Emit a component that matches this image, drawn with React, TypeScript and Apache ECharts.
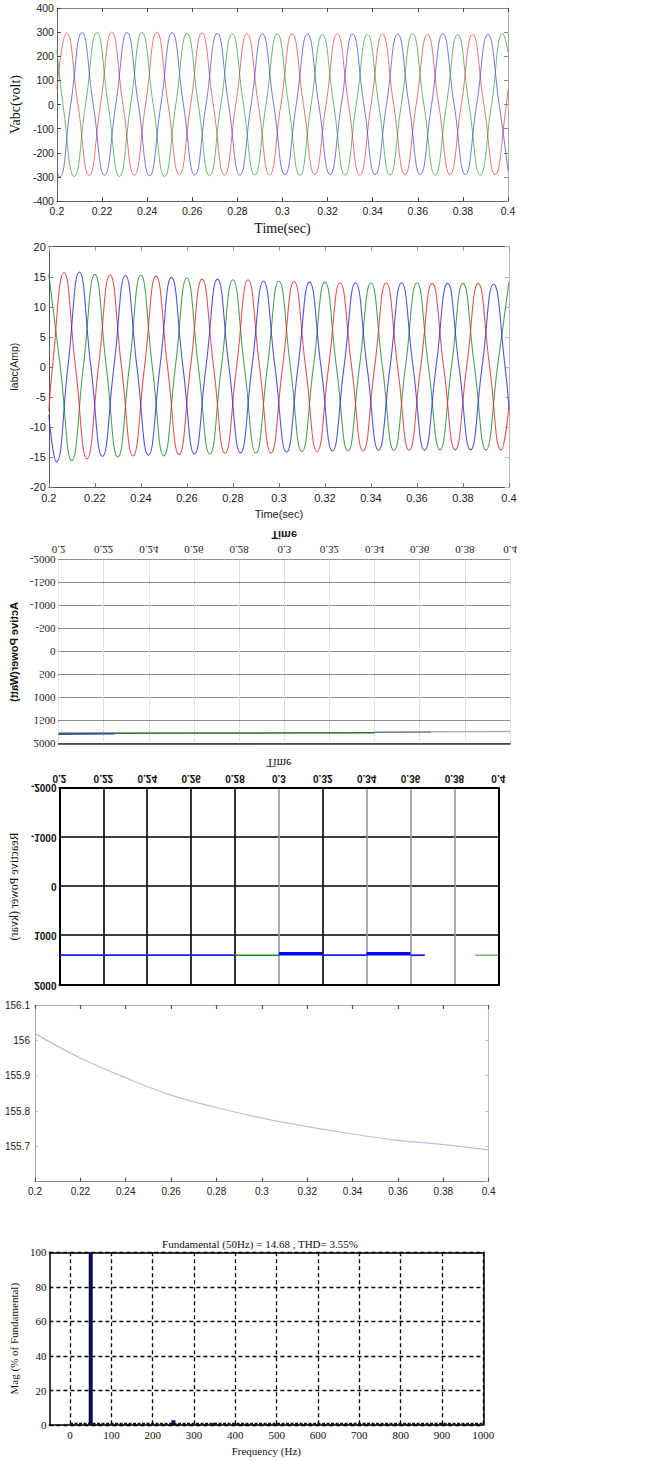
import React, { useEffect, useRef } from "react";
import * as echarts from "echarts";

// ---------- Panel 1: Vabc (volt) ----------
const vRed = [
  [0.2, 65], [0.2043, 297], [0.2093, 0], [0.2143, -293], [0.2193, 0], [0.2243, 300], [0.2293, 0], [0.2343, -293],
  [0.2393, 0], [0.2443, 300], [0.2493, 0], [0.2543, -290], [0.2593, 0], [0.2643, 296], [0.2693, 0], [0.2743, -292],
  [0.2793, 0], [0.2843, 293], [0.2893, 0], [0.2943, -292], [0.2993, 0], [0.3043, 293], [0.3093, 0], [0.3143, -290],
  [0.3193, 0], [0.3243, 293], [0.3293, 0], [0.3343, -292], [0.3393, 0], [0.3443, 292], [0.3493, 0], [0.3543, -290],
  [0.3593, 0], [0.3643, 290], [0.3693, 0], [0.3743, -290], [0.3793, 0], [0.3843, 290], [0.3893, 0], [0.3943, -290],
  [0.3993, 0], [0.4, 63],
];
const vBlue = [
  [0.2, -282], [0.2011, -300], [0.2061, 0], [0.2111, 298], [0.2161, 0], [0.2211, -293], [0.2261, 0], [0.2311, 298],
  [0.2361, 0], [0.2411, -295], [0.2461, 0], [0.2511, 298], [0.2561, 0], [0.2611, -292], [0.2661, 0], [0.2711, 295],
  [0.2761, 0], [0.2811, -292], [0.2861, 0], [0.2911, 293], [0.2961, 0], [0.3011, -290], [0.3061, 0], [0.3111, 292],
  [0.3161, 0], [0.3211, -290], [0.3261, 0], [0.3311, 292], [0.3361, 0], [0.3411, -290], [0.3461, 0], [0.3511, 292],
  [0.3561, 0], [0.3611, -290], [0.3661, 0], [0.3711, 293], [0.3761, 0], [0.3811, -290], [0.3861, 0], [0.3911, 290],
  [0.3961, 0], [0.4, -273],
];
const vGreen = [
  [0.2, 225], [0.2027, 0], [0.2077, -298], [0.2127, 0], [0.2177, 298], [0.2227, 0], [0.2277, -298], [0.2327, 0],
  [0.2377, 298], [0.2427, 0], [0.2477, -298], [0.2527, 0], [0.2577, 295], [0.2627, 0], [0.2677, -295], [0.2727, 0],
  [0.2777, 293], [0.2827, 0], [0.2877, -292], [0.2927, 0], [0.2977, 293], [0.3027, 0], [0.3077, -293], [0.3127, 0],
  [0.3177, 290], [0.3227, 0], [0.3277, -292], [0.3327, 0], [0.3377, 290], [0.3427, 0], [0.3477, -292], [0.3527, 0],
  [0.3577, 293], [0.3627, 0], [0.3677, -292], [0.3727, 0], [0.3777, 290], [0.3827, 0], [0.3877, -292], [0.3927, 0],
  [0.3977, 295], [0.4, 219],
];

// ---------- Panel 2: Iabc (Amp) ----------
const iGreen = [
  [0.2, 15.4], [0.205, 0], [0.21, -15.6], [0.215, 0], [0.22, 15.4], [0.225, 0], [0.23, -15.0], [0.235, 0],
  [0.24, 15.3], [0.245, 0], [0.25, -14.8], [0.255, 0], [0.26, 14.8], [0.265, 0], [0.27, -14.5], [0.275, 0],
  [0.28, 14.5], [0.285, 0], [0.29, -14.3], [0.295, 0], [0.3, 14.3], [0.305, 0], [0.31, -14.1], [0.315, 0],
  [0.32, 14.1], [0.325, 0], [0.33, -14.0], [0.335, 0], [0.34, 14.0], [0.345, 0], [0.35, -13.9], [0.355, 0],
  [0.36, 14.0], [0.365, 0], [0.37, -13.8], [0.375, 0], [0.38, 13.9], [0.385, 0], [0.39, -13.8], [0.395, 0],
  [0.4, 14.2],
];
const iRed = [
  [0.2, -7.4], [0.2016, 0], [0.2066, 15.7], [0.2116, 0], [0.2166, -15.3], [0.2216, 0], [0.2266, 15.3], [0.2316, 0],
  [0.2366, -14.8], [0.2416, 0], [0.2466, 15.1], [0.2516, 0], [0.2566, -14.6], [0.2616, 0], [0.2666, 14.6], [0.2716, 0],
  [0.2766, -14.4], [0.2816, 0], [0.2866, 14.5], [0.2916, 0], [0.2966, -14.3], [0.3016, 0], [0.3066, 14.2], [0.3116, 0],
  [0.3166, -14.1], [0.3216, 0], [0.3266, 14.0], [0.3316, 0], [0.3366, -14.0], [0.3416, 0], [0.3466, 14.0], [0.3516, 0],
  [0.3566, -13.9], [0.3616, 0], [0.3666, 13.9], [0.3716, 0], [0.3766, -13.8], [0.3816, 0], [0.3866, 13.9], [0.3916, 0],
  [0.3966, -13.8], [0.4, -6.7],
];
const iBlue = [
  [0.2, -8.0], [0.2033, -15.8], [0.2083, 0], [0.2133, 15.8], [0.2183, 0], [0.2233, -14.9], [0.2283, 0], [0.2333, 15.2],
  [0.2383, 0], [0.2433, -14.7], [0.2483, 0], [0.2533, 14.9], [0.2583, 0], [0.2633, -14.5], [0.2683, 0], [0.2733, 14.6],
  [0.2783, 0], [0.2833, -14.3], [0.2883, 0], [0.2933, 14.3], [0.2983, 0], [0.3033, -14.2], [0.3083, 0], [0.3133, 14.1],
  [0.3183, 0], [0.3233, -14.0], [0.3283, 0], [0.3333, 14.0], [0.3383, 0], [0.3433, -13.9], [0.3483, 0], [0.3533, 14.0],
  [0.3583, 0], [0.3633, -13.9], [0.3683, 0], [0.3733, 13.9], [0.3783, 0], [0.3833, -13.8], [0.3883, 0], [0.3933, 13.8],
  [0.3983, 0], [0.4, -7.1],
];

// ---------- Panel 3: Active Power (Watt) ----------
const pGreen = [[0.2, 1765], [0.34, 1758]];
const pBlueStart = [[0.2, 1786], [0.225, 1775]];
const pBlueEnd = [[0.34, 1745], [0.365, 1740]];
const pGrayEnd = [[0.365, 1733], [0.4, 1728]];

// ---------- Panel 4: Reactive Power (kvar) ----------
const qBlueThin1 = [[0.2, 1395], [0.28, 1395]];
const qGreen1 = [[0.28, 1395], [0.3, 1395]];
const qBlueThick1 = [[0.3, 1365], [0.32, 1365]];
const qBlueThin2 = [[0.32, 1395], [0.34, 1395]];
const qBlueThick2 = [[0.34, 1365], [0.36, 1365]];
const qBlueThin3 = [[0.36, 1395], [0.3665, 1395]];
const qGreen2 = [[0.3895, 1395], [0.4, 1395]];
const qSplitColors = ["#000", "#000", "#000", "#000", "#000", "#999", "#000", "#999", "#999", "#999", "#000"];

// ---------- Panel 5 ----------
const t5 = [0.2, 0.22, 0.24, 0.26, 0.28, 0.3, 0.32, 0.34, 0.36, 0.38, 0.4];
const v5 = [156.019, 155.95, 155.894, 155.845, 155.81, 155.78, 155.756, 155.735, 155.717, 155.705, 155.69];

// ---------- Panel 6: FFT ----------
const fftFreq = [50, 250, 350];
const fftMag = [100, 2.8, 1.3];
const fftFloor = [[0, 0.8], [1000, 0.8]];
const fftTitle = "Fundamental (50Hz) = 14.68 , THD= 3.55%";

const SANS = "'Liberation Sans', Arial, sans-serif";
const NARROW = "'Liberation Sans Narrow', 'Liberation Sans', Arial, sans-serif";
const SERIF = "'Liberation Serif', 'Times New Roman', serif";
const fmt2 = (v: number) => String(parseFloat(v.toFixed(2)));
const fmtInt = (v: number) => String(Math.round(v));

const timeAxisBase = { type: "value", min: 0.2, max: 0.4, interval: 0.02, splitLine: { show: false } };

function wave(data: any, color: string, width = 1, opacity = 0.8) {
  return {
    type: "line", data, showSymbol: false, smooth: 0.5, silent: true,
    lineStyle: { color, width, opacity },
  };
}
function seg(data: any, color: string, width: number) {
  return { type: "line", data, showSymbol: false, silent: true, lineStyle: { color, width } };
}

const opt1 = {
  animation: false,
  grid: { left: 45, top: 8, width: 463, height: 202 },
  xAxis: [
    {
      ...timeAxisBase, position: "bottom",
      axisLine: { onZero: false, lineStyle: { color: "#666" } },
      axisTick: { inside: true, length: 4, lineStyle: { color: "#444" } },
      axisLabel: { formatter: fmt2, color: "#222", fontSize: 10.5, fontFamily: SANS, margin: 4 },
      name: "Time(sec)", nameLocation: "middle", nameGap: 15,
      nameTextStyle: { fontFamily: SERIF, fontSize: 14, color: "#111" },
    },
    {
      ...timeAxisBase, position: "top",
      axisLine: { onZero: false, lineStyle: { color: "#888" } },
      axisTick: { inside: true, length: 4, lineStyle: { color: "#444" } },
      axisLabel: { show: false },
    },
  ],
  yAxis: [
    {
      type: "value", min: -400, max: 400, interval: 100, position: "left", splitLine: { show: false },
      axisLine: { onZero: false, show: true, lineStyle: { color: "#666" } },
      axisTick: { show: true, inside: true, length: 4, lineStyle: { color: "#444" } },
      axisLabel: { color: "#222", fontSize: 10.5, fontFamily: SANS, margin: 3 },
      name: "Vabc(volt)", nameLocation: "middle", nameGap: 23,
      nameTextStyle: { fontFamily: SERIF, fontSize: 14, color: "#111" },
    },
    {
      type: "value", min: -400, max: 400, interval: 100, position: "right", splitLine: { show: false },
      axisLine: { onZero: false, show: true, lineStyle: { color: "#aaa" } },
      axisTick: { show: true, inside: true, length: 4, lineStyle: { color: "#888" } },
      axisLabel: { show: false },
    },
  ],
  series: [wave(vRed, "#e23a3a", 1, 0.7), wave(vBlue, "#3a3ae8", 1, 0.7), wave(vGreen, "#2e9a3a", 1, 0.7)],
};

const opt2 = {
  animation: false,
  grid: { left: 38, top: 6.7, width: 471, height: 245 },
  xAxis: [
    {
      ...timeAxisBase, position: "bottom",
      axisLine: { onZero: false, lineStyle: { color: "#555" } },
      axisTick: { inside: true, length: 4, lineStyle: { color: "#777" } },
      axisLabel: { formatter: fmt2, color: "#222", fontSize: 11, fontFamily: NARROW, margin: 5 },
      name: "Time(sec)", nameLocation: "middle", nameGap: 18,
      nameTextStyle: { fontFamily: NARROW, fontSize: 11, color: "#222" },
    },
    {
      ...timeAxisBase, position: "top",
      axisLine: { onZero: false, lineStyle: { color: "#555" } },
      axisTick: { inside: true, length: 4, lineStyle: { color: "#999" } },
      axisLabel: { show: false },
    },
  ],
  yAxis: [
    {
      type: "value", min: -20, max: 20, interval: 5, position: "left", splitLine: { show: false },
      axisLine: { onZero: false, show: true, lineStyle: { color: "#555" } },
      axisTick: { show: true, inside: true, length: 4, lineStyle: { color: "#777" } },
      axisLabel: { color: "#222", fontSize: 11, fontFamily: NARROW, margin: 3 },
      name: "Iabc(Amp)", nameLocation: "middle", nameGap: 16,
      nameTextStyle: { fontFamily: SANS, fontSize: 10.5, color: "#222" },
    },
    {
      type: "value", min: -20, max: 20, interval: 5, position: "right", splitLine: { show: false },
      axisLine: { onZero: false, show: true, lineStyle: { color: "#bbb" } },
      axisTick: { show: true, inside: true, length: 4, lineStyle: { color: "#bbb" } },
      axisLabel: { show: false },
    },
  ],
  series: [wave(iGreen, "#1f8a2a", 1.1, 0.8), wave(iRed, "#e02828", 1.1, 0.8), wave(iBlue, "#2828e0", 1.1, 0.8)],
};

// Panel 3 (drawn normally, then flipped vertically like the source image)
const opt3 = {
  animation: false,
  grid: { left: 49.3, top: 6, width: 460.7, height: 191.3 },
  xAxis: [
    {
      ...timeAxisBase, position: "bottom",
      axisLine: { show: false, onZero: false },
      axisTick: { show: false },
      axisLabel: { formatter: fmt2, color: "#222", fontSize: 11, fontFamily: SERIF, margin: 4 },
      splitLine: { show: true, lineStyle: { color: "#c4c4c4", type: "dotted", width: 1 } },
      name: "Time", nameLocation: "middle", nameGap: 15,
      nameTextStyle: { fontFamily: SANS, fontWeight: "bold", fontSize: 11, color: "#111" },
    },
    {
      ...timeAxisBase, position: "top",
      axisLine: { show: true, onZero: false, lineStyle: { color: "#333", width: 1.5 } },
      axisTick: { show: false }, axisLabel: { show: false },
    },
  ],
  yAxis: [
    {
      type: "value", min: -2000, max: 2000, interval: 500, position: "left",
      axisLine: { show: false, onZero: false }, axisTick: { show: false },
      splitLine: { show: true, lineStyle: { color: "#222", type: "dotted", width: 1 } },
      axisLabel: { color: "#222", fontSize: 11, fontFamily: SERIF, margin: 3, formatter: fmtInt },
      name: "Active Power(Watt)", nameLocation: "middle", nameGap: 28,
      nameTextStyle: { fontFamily: SANS, fontWeight: "bold", fontSize: 11, color: "#111" },
    },
  ],
  series: [
    seg(pGreen, "#2b6e2b", 1.5),
    seg(pBlueStart, "#3850b0", 1.5),
    seg(pBlueEnd, "#6878a8", 1.5),
    seg(pGrayEnd, "#a8b0c8", 1.5),
  ],
};

// Panel 4 (also flipped)
const opt4 = {
  animation: false,
  grid: { left: 51, top: 10, width: 447.3, height: 197.3 },
  xAxis: [
    {
      ...timeAxisBase, position: "bottom",
      axisLine: { show: true, onZero: false, lineStyle: { color: "#000", width: 2 } },
      axisTick: { show: false },
      axisLabel: { formatter: fmt2, color: "#111", fontSize: 10, fontWeight: "bold", fontFamily: SANS, margin: 4 },
      splitLine: { show: true, lineStyle: { color: qSplitColors, width: 1.6 } },
      name: "Time", nameLocation: "middle", nameGap: 18,
      nameTextStyle: { fontFamily: SERIF, fontSize: 12, color: "#111" },
    },
    {
      ...timeAxisBase, position: "top",
      axisLine: { show: true, onZero: false, lineStyle: { color: "#000", width: 2 } },
      axisTick: { show: false }, axisLabel: { show: false },
    },
  ],
  yAxis: [
    {
      type: "value", min: -2000, max: 2000, interval: 1000, position: "left",
      axisLine: { show: true, onZero: false, lineStyle: { color: "#000", width: 2 } },
      axisTick: { show: false },
      splitLine: { show: true, lineStyle: { color: "#000", width: 1.6 } },
      axisLabel: { color: "#111", fontSize: 10, fontWeight: "bold", fontFamily: SANS, margin: 3, formatter: fmtInt },
      name: "Reactive Power (kvar)", nameLocation: "middle", nameGap: 30,
      nameTextStyle: { fontFamily: SERIF, fontSize: 12, color: "#111" },
    },
    {
      type: "value", min: -2000, max: 2000, interval: 1000, position: "right",
      axisLine: { show: true, onZero: false, lineStyle: { color: "#000", width: 2 } },
      axisTick: { show: false }, axisLabel: { show: false }, splitLine: { show: false },
    },
  ],
  series: [
    seg(qBlueThin1, "#1a1aff", 1.8),
    seg(qGreen1, "#1f8a1f", 1.5),
    seg(qBlueThick1, "#0000ff", 3.5),
    seg(qBlueThin2, "#1a1aff", 1.8),
    seg(qBlueThick2, "#0000ff", 3.5),
    seg(qBlueThin3, "#1a1aff", 1.8),
    seg(qGreen2, "#66c066", 1.5),
  ],
};

const opt5 = {
  animation: false,
  grid: { left: 35, top: 3.3, width: 453.7, height: 178.4 },
  xAxis: [
    {
      ...timeAxisBase, position: "bottom",
      axisLine: { onZero: false, lineStyle: { color: "#888" } },
      axisTick: { inside: true, length: 4, lineStyle: { color: "#555", width: 1.2 } },
      axisLabel: { formatter: fmt2, color: "#222", fontSize: 10, fontFamily: NARROW, margin: 5 },
    },
    {
      ...timeAxisBase, position: "top",
      axisLine: { onZero: false, lineStyle: { color: "#aaa" } },
      axisTick: { inside: true, length: 4, lineStyle: { color: "#555", width: 1.2 } },
      axisLabel: { show: false },
    },
  ],
  yAxis: [
    {
      type: "value", min: 155.6, max: 156.1, interval: 0.1, position: "left", splitLine: { show: false },
      axisLine: { onZero: false, show: true, lineStyle: { color: "#aaa" } },
      axisTick: { show: true, inside: true, length: 3, lineStyle: { color: "#bbb" } },
      axisLabel: {
        color: "#222", fontSize: 10, fontFamily: NARROW, margin: 5,
        formatter: (v: number) => (v < 155.65 ? "" : String(parseFloat(v.toFixed(1)))),
      },
    },
    {
      type: "value", min: 155.6, max: 156.1, interval: 0.1, position: "right", splitLine: { show: false },
      axisLine: { onZero: false, show: true, lineStyle: { color: "#bbb" } },
      axisTick: { show: true, inside: true, length: 3, lineStyle: { color: "#bbb" } },
      axisLabel: { show: false },
    },
  ],
  series: [
    {
      type: "line", data: t5.map((t, i) => [t, v5[i]]), showSymbol: false, smooth: 0.4, silent: true,
      lineStyle: { color: "#bcbce8", width: 1.2 },
    },
  ],
};

const opt6 = {
  animation: false,
  title: {
    text: fftTitle, left: "center", top: 28,
    textStyle: { fontFamily: SERIF, fontSize: 11, fontWeight: "normal", color: "#111" },
  },
  grid: { left: 36.7, top: 47.3, width: 446.6, height: 177 },
  xAxis: [
    {
      type: "value", min: -50, max: 1000, interval: 50, position: "bottom",
      axisLine: { onZero: false, lineStyle: { color: "#000", width: 1.5 } },
      axisTick: { show: false },
      axisLabel: {
        color: "#111", fontSize: 11, fontFamily: SERIF, margin: 4,
        formatter: (v: number) => (v % 100 === 0 ? String(v) : ""),
      },
      splitLine: { show: true, lineStyle: { color: ["rgba(0,0,0,0)", "#000"], type: [4, 3], width: 1.3 } },
      name: "Frequency (Hz)", nameLocation: "middle", nameGap: 14,
      nameTextStyle: { fontFamily: SERIF, fontSize: 11, color: "#111" },
    },
    {
      type: "value", min: -50, max: 1000, interval: 50, position: "top",
      axisLine: { onZero: false, lineStyle: { color: "#000", width: 1.5 } },
      axisTick: { show: false }, axisLabel: { show: false }, splitLine: { show: false },
    },
  ],
  yAxis: [
    {
      type: "value", min: 0, max: 100, interval: 20, position: "left",
      axisLine: { onZero: false, show: true, lineStyle: { color: "#000", width: 1.5 } },
      axisTick: { show: false },
      splitLine: { show: true, lineStyle: { color: "#000", type: [4, 3], width: 1.3 } },
      axisLabel: { color: "#111", fontSize: 11, fontFamily: SERIF, margin: 3 },
      name: "Mag (% of Fundamental)", nameLocation: "middle", nameGap: 15,
      nameTextStyle: { fontFamily: SERIF, fontSize: 11, color: "#111" },
    },
    {
      type: "value", min: 0, max: 100, interval: 20, position: "right",
      axisLine: { onZero: false, show: true, lineStyle: { color: "#000", width: 1.5 } },
      axisTick: { show: false }, axisLabel: { show: false }, splitLine: { show: false },
    },
  ],
  series: [
    {
      type: "line", data: fftFloor, showSymbol: false, silent: true,
      lineStyle: { color: "#111", width: 2, type: [3, 1.5] },
    },
    {
      type: "bar", data: fftFreq.map((f, i) => [f, fftMag[i]]), barWidth: 4, silent: true,
      itemStyle: { color: "#0a0a55" },
    },
  ],
};

function EChart({ option, box, flip }: { option: any; box: any; flip?: boolean }) {
  const ref = useRef<HTMLDivElement>(null);
  useEffect(() => {
    const chart = echarts.init(ref.current as HTMLDivElement, null, { renderer: "svg" });
    chart.setOption(option);
    return () => chart.dispose();
  }, [option]);
  return (
    <div
      ref={ref}
      style={{
        position: "absolute",
        left: box.left,
        top: box.top,
        width: box.width,
        height: box.height,
        transform: flip ? "scaleY(-1)" : "none",
      }}
    />
  );
}

export default function App() {
  return (
    <div style={{ position: "absolute", left: 0, top: 0, width: 646, height: 1461, background: "#fff", overflow: "hidden" }}>
      <EChart option={opt1} box={{ left: 0, top: 0, width: 646, height: 240 }} />
      <EChart option={opt2} box={{ left: 0, top: 240, width: 646, height: 284 }} />
      <EChart option={opt3} box={{ left: 0, top: 524, width: 646, height: 226 }} flip />
      <EChart option={opt4} box={{ left: 0, top: 752, width: 646, height: 243 }} flip />
      <EChart option={opt5} box={{ left: 0, top: 1000, width: 646, height: 205 }} />
      <EChart option={opt6} box={{ left: 0, top: 1205, width: 520, height: 256 }} />
    </div>
  );
}
